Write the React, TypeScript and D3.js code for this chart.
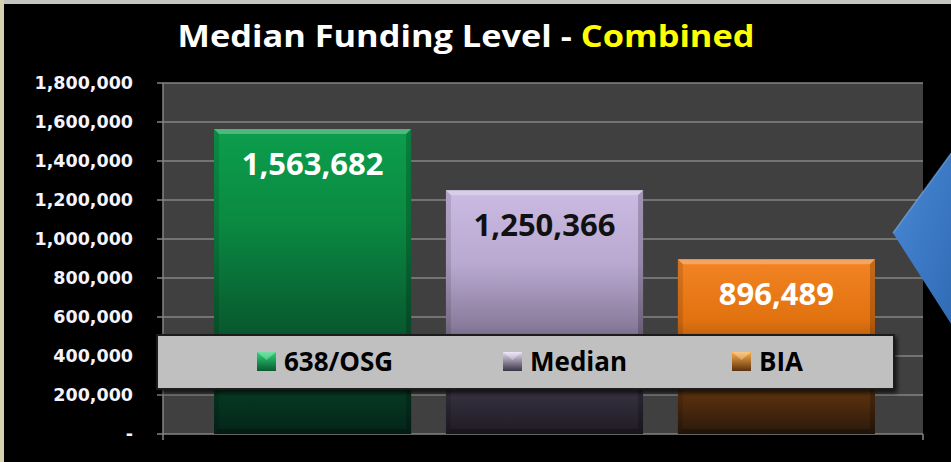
import React from "react";
import * as d3 from "d3";

const series = ["638/OSG", "Median", "BIA"];
const values = [1563682, 1250366, 896489];
const yTicks = [0, 200000, 400000, 600000, 800000, 1000000, 1200000, 1400000, 1600000, 1800000];
const labelColors = ["#ffffff", "#111111", "#ffffff"];
const gradStops = [
  [["0", "#0c9e4c"], ["0.3", "#0a8a42"], ["0.65", "#085b2f"], ["1", "#04241a"]],
  [["0", "#cbbbe2"], ["0.3", "#b9a9d1"], ["0.55", "#8b7d9d"], ["0.8", "#3a3444"], ["1", "#1f1b25"]],
  [["0", "#f38424"], ["0.35", "#e2720f"], ["0.7", "#6a3810"], ["1", "#2a190b"]],
];
const swatchColors = [["#2fd77a", "#0a5a2e"], ["#e6dcf4", "#3a3444"], ["#ffb048", "#5a300c"]];

const W = 951, H = 462;
const plot = { left: 163, right: 923, top: 83, bottom: 434 };

export default function App() {
  const y = d3.scaleLinear().domain([0, 1800000]).range([plot.bottom, plot.top]);
  const x = d3.scaleBand<string>().domain(series).range([214, 875]).paddingInner(0.15).paddingOuter(0);
  const fmt = d3.format(",");
  const legendX = [257, 503, 732];

  return (
    <svg width={W} height={H} style={{ position: "absolute", left: 0, top: 0, background: "#000" }}>
      <defs>
        {gradStops.map((stops, i) => (
          <linearGradient key={i} id={`bg${i}`} x1="0" y1="0" x2="0" y2="1">
            {stops.map(([o, c], j) => <stop key={j} offset={o} stopColor={c} />)}
          </linearGradient>
        ))}
        {swatchColors.map((c, i) => (
          <linearGradient key={i} id={`sw${i}`} x1="0" y1="0" x2="0" y2="1">
            <stop offset="0" stopColor={c[0]} />
            <stop offset="1" stopColor={c[1]} />
          </linearGradient>
        ))}
        <linearGradient id="diamond" x1="0" y1="0" x2="1" y2="1">
          <stop offset="0" stopColor="#4a8ad6" />
          <stop offset="1" stopColor="#2f69b4" />
        </linearGradient>
        <filter id="shadow" x="-5%" y="-20%" width="110%" height="150%">
          <feDropShadow dx="2" dy="3" stdDeviation="2" floodColor="#000" floodOpacity="0.7" />
        </filter>
      </defs>
      <rect x={0} y={0} width={W} height={H} fill="#000" />
      {/* window frame */}
      <rect x={0} y={0} width={W} height={4} fill="#c4c4c0" />
      <rect x={0} y={0} width={4} height={H} fill="#d6d2b0" />

      {/* title */}
      <text x={466} y={47} textAnchor="middle" fontFamily="'Open Sans', sans-serif" fontWeight="bold" fontSize={31}
        textLength={577} lengthAdjust="spacingAndGlyphs" fill="#ffffff">
        Median Funding Level - <tspan fill="#ffff00">Combined</tspan>
      </text>

      {/* plot area */}
      <rect x={plot.left} y={plot.top} width={plot.right - plot.left} height={plot.bottom - plot.top} fill="#404040" />
      {yTicks.map((t) => (
        <g key={t}>
          <line x1={157} x2={plot.right} y1={y(t)} y2={y(t)} stroke="#858585" strokeWidth={1.5} />
          <text x={133} y={y(t)} dy="0.36em" textAnchor="end" fontFamily="'DejaVu Sans', sans-serif" fontWeight="bold"
            fontSize={17.5} fill="#f4f4ff">
            {t === 0 ? "-" : fmt(t)}
          </text>
        </g>
      ))}
      <line x1={plot.left} x2={plot.left} y1={plot.top} y2={plot.bottom + 6} stroke="#858585" strokeWidth={1.5} />
      <line x1={plot.right} x2={plot.right} y1={plot.bottom} y2={plot.bottom + 6} stroke="#858585" strokeWidth={1.5} />

      {/* bars */}
      {series.map((s, i) => {
        const bx = x(s)!;
        const bw = x.bandwidth();
        const top = y(values[i]);
        const h = plot.bottom - top;
        return (
          <g key={s}>
            <rect x={bx} y={top} width={bw} height={h} fill={`url(#bg${i})`} />
            <polygon points={`${bx},${top} ${bx + bw},${top} ${bx + bw - 5},${top + 5} ${bx + 5},${top + 5}`}
              fill="#ffffff" opacity={0.28} />
            <polygon points={`${bx},${top} ${bx + 5},${top + 5} ${bx + 5},${plot.bottom - 5} ${bx},${plot.bottom}`}
              fill="#000" opacity={0.12} />
            <polygon points={`${bx + bw},${top} ${bx + bw - 5},${top + 5} ${bx + bw - 5},${plot.bottom - 5} ${bx + bw},${plot.bottom}`}
              fill="#000" opacity={0.2} />
            <polygon points={`${bx},${plot.bottom} ${bx + 5},${plot.bottom - 5} ${bx + bw - 5},${plot.bottom - 5} ${bx + bw},${plot.bottom}`}
              fill="#000" opacity={0.25} />
            <text x={bx + bw / 2} y={top + 35} dy="0.36em" textAnchor="middle" fontFamily="'Open Sans', sans-serif"
              fontWeight="bold" fontSize={31} fill={labelColors[i]}>
              {fmt(values[i])}
            </text>
          </g>
        );
      })}

      {/* legend */}
      <rect x={157} y={335} width={737} height={54} fill="#c0c0c0" stroke="#1a1a1a" strokeWidth={2} filter="url(#shadow)" />
      {series.map((s, i) => (
        <g key={s}>
          <rect x={legendX[i]} y={352} width={19} height={19} fill={`url(#sw${i})`} />
          <polygon points={`${legendX[i]},352 ${legendX[i] + 19},352 ${legendX[i] + 9.5},360`} fill="#ffffff" opacity={0.3} />
          <text x={legendX[i] + 27} y={362} dy="0.36em" fontFamily="'Open Sans', sans-serif" fontWeight="bold" fontSize={26}
            fill="#000">
            {s}
          </text>
        </g>
      ))}

      {/* blue shape */}
      <polygon points="893,233 955,148 955,330" fill="url(#diamond)" />
      <polyline points="893,233 955,148" fill="none" stroke="#7fb0ea" strokeWidth={1.5} opacity={0.6} />
    </svg>
  );
}
